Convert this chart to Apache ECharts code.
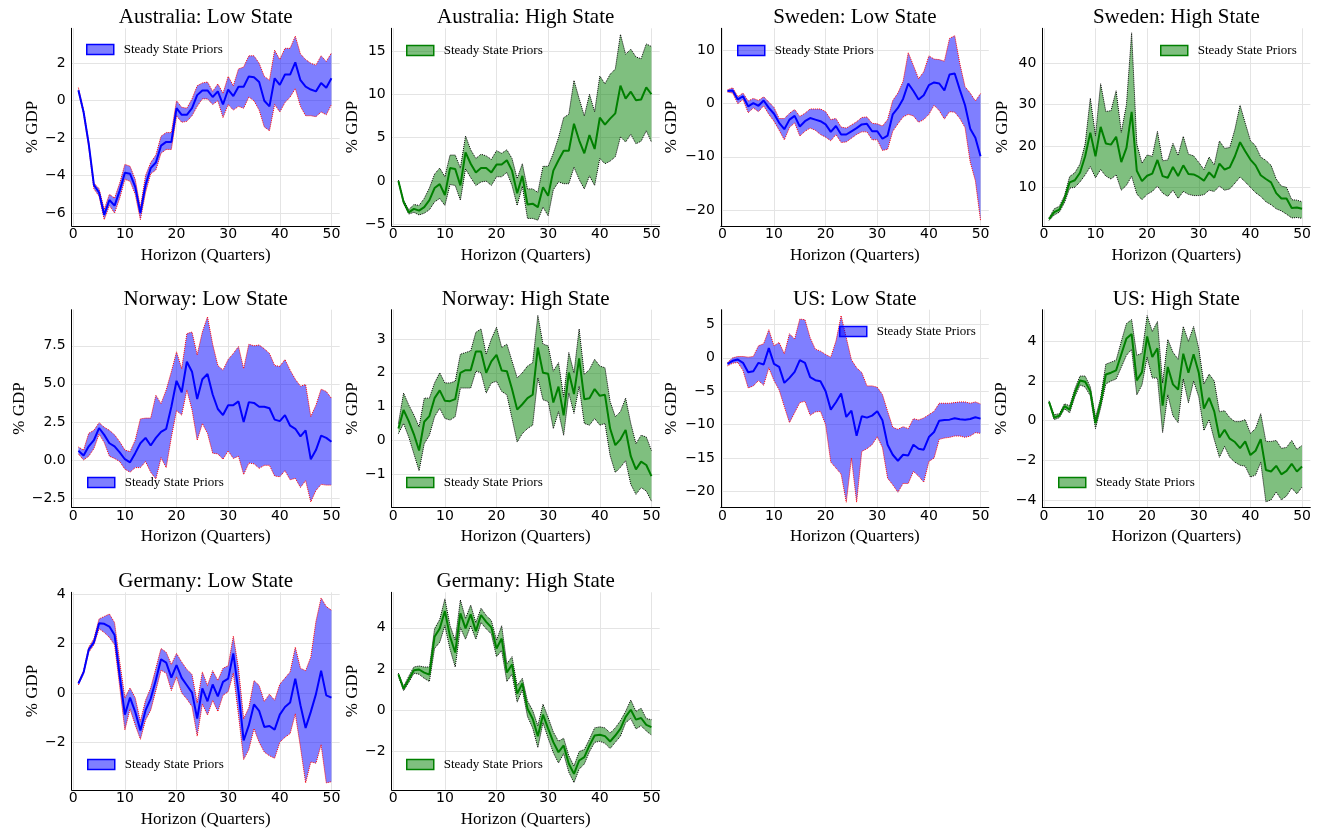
<!DOCTYPE html>
<html>
<head>
<meta charset="utf-8">
<script src="https://cdn.jsdelivr.net/npm/echarts@6/dist/echarts.min.js"></script>
<style>html,body{margin:0;padding:0;background:#fff}#main{width:1327px;height:829px}</style>
</head>
<body>
<div id="main"></div>
<script>
// horizon in quarters
var horizon = [1,2,3,4,5,6,7,8,9,10,11,12,13,14,15,16,17,18,19,20,21,22,23,24,25,
               26,27,28,29,30,31,32,33,34,35,36,37,38,39,40,41,42,43,44,45,46,47,48,49,50];

var ausLowMed = [0.56,-0.6,-2.3,-4.5,-4.9,-6.1,-5.3,-5.6,-4.8,-3.85,-3.9,-4.6,-6.0,-4.5,-3.6,-3.3,-2.4,-2.2,-2.2,-0.4,-0.75,-0.75,-0.4,0.3,0.55,0.55,0.2,0.5,-0.2,0.6,0.25,0.75,0.75,1.3,1.25,1.0,0.0,-0.3,1.2,0.85,1.4,1.4,2.05,1.1,0.75,0.6,0.5,0.95,0.7,1.2];
var ausLowHi  = [0.7,-0.5,-2.2,-4.4,-4.7,-5.8,-5.0,-5.2,-4.4,-3.4,-3.5,-4.2,-5.7,-4.0,-3.3,-2.9,-1.9,-1.7,-1.7,0.0,-0.35,-0.4,0.1,0.8,0.95,1.0,0.5,0.9,0.4,1.3,0.8,1.7,1.8,2.4,2.4,2.0,1.3,1.1,2.7,2.2,2.8,2.8,3.45,2.5,2.2,2.0,1.9,2.4,2.1,2.55];
var ausLowLo  = [0.5,-0.7,-2.5,-4.7,-5.1,-6.35,-5.6,-6.0,-5.2,-4.2,-4.3,-5.0,-6.35,-4.9,-3.9,-3.7,-2.8,-2.6,-2.6,-0.8,-1.15,-1.1,-0.8,-0.3,0.1,0.1,-0.2,0.0,-0.9,-0.2,-0.5,-0.3,-0.4,0.2,0.0,-0.5,-1.4,-1.6,-0.2,-0.6,-0.1,0.2,0.65,-0.3,-0.8,-0.8,-0.85,-0.6,-0.75,-0.2];

var ausHighMed = [0.0,-2.4,-3.6,-3.2,-3.4,-3.0,-2.2,-0.8,-0.35,-1.6,1.5,1.4,-0.5,3.3,2.0,1.0,1.5,1.5,1.0,1.9,1.9,2.4,1.2,-1.4,0.6,-2.7,-2.6,-3.0,-0.7,-1.7,1.2,2.4,3.5,3.5,6.6,4.7,3.2,5.3,3.7,7.3,6.5,7.2,7.8,11.0,9.5,10.3,9.3,9.4,10.8,10.0];
var ausHighHi  = [0.1,-2.2,-3.3,-2.7,-2.8,-2.0,-0.8,0.8,1.5,0.5,3.0,3.0,1.5,5.2,3.6,2.6,3.1,2.9,2.5,3.5,3.2,3.6,2.6,0.3,2.0,-0.9,-0.9,-1.3,1.7,1.7,3.2,5.0,7.3,7.7,11.6,9.5,7.5,10.0,8.0,12.1,11.2,12.3,12.9,16.9,14.6,15.2,14.3,14.1,15.8,15.5];
var ausHighLo  = [-0.1,-2.6,-3.8,-3.6,-3.9,-3.7,-3.3,-2.4,-2.0,-2.8,-0.4,-0.5,-2.2,1.4,0.4,-0.5,-0.1,0.0,-0.5,0.5,0.5,1.0,-0.5,-2.8,-0.6,-4.3,-4.3,-4.5,-3.0,-4.0,-1.0,-0.1,-0.3,-0.3,1.6,0.2,-0.9,0.6,-0.5,2.6,2.0,2.3,2.8,5.1,4.5,5.4,4.3,4.6,5.8,4.5];

var sweLowMed = [2.4,2.5,0.8,1.4,-0.5,0.1,-0.4,0.6,-0.8,-1.9,-3.6,-4.8,-3.0,-2.3,-4.3,-3.3,-2.7,-3.0,-3.3,-3.9,-5.3,-4.2,-5.8,-5.8,-5.2,-4.6,-3.9,-3.8,-5.2,-5.2,-6.6,-6.0,-2.0,-0.8,0.9,3.8,2.4,0.8,1.6,3.5,4.0,3.8,2.5,5.5,5.7,2.6,-0.3,-4.7,-6.4,-9.9];
var sweLowHi  = [2.6,3.0,1.3,2.0,0.5,1.0,0.6,1.3,0.3,-0.7,-2.8,-2.8,-1.8,-1.1,-2.4,-1.8,-1.0,-1.0,-1.0,-1.5,-3.0,-2.8,-4.4,-4.6,-4.0,-3.4,-2.6,-2.5,-3.7,-3.8,-4.2,-3.0,0.6,2.0,4.2,9.6,7.2,4.7,6.0,9.0,8.4,8.3,8.0,12.3,12.8,7.5,3.2,2.0,0.5,1.9];
var sweLowLo  = [2.2,2.0,0.0,0.8,-1.7,-0.8,-1.5,-0.4,-2.0,-3.3,-5.0,-6.8,-4.5,-3.6,-6.1,-5.2,-4.6,-5.0,-5.8,-6.3,-7.0,-5.8,-7.3,-7.2,-6.5,-5.8,-5.3,-5.3,-6.8,-6.8,-8.8,-8.6,-5.2,-3.8,-2.5,-2.0,-2.3,-3.5,-3.0,-2.0,-0.3,-1.3,-2.9,-1.5,-1.6,-2.8,-4.5,-11.0,-14.5,-22.0];

var sweHighMed = [2.3,4.0,4.6,7.2,11.2,11.7,13.5,17.5,23.2,17.5,24.6,20.6,20.3,22.2,16.1,19.5,28.2,14.0,11.5,12.8,13.3,16.6,12.7,12.3,14.9,12.7,15.3,13.2,13.1,12.5,11.6,13.6,12.3,15.7,14.3,14.8,17.5,20.9,18.7,16.7,15.3,12.9,12.0,11.2,8.6,7.3,7.3,5.0,5.1,4.8];
var sweHighHi  = [2.6,4.8,5.4,8.0,12.6,13.5,15.6,20.5,31.5,22.5,35.0,28.3,28.5,33.3,23.3,30.0,47.3,20.5,15.8,17.8,17.5,23.5,16.4,16.6,20.6,17.7,22.3,18.0,17.6,16.0,14.3,17.3,15.4,21.2,19.4,19.6,24.0,29.8,25.5,21.3,20.0,17.3,16.5,15.3,12.0,10.3,10.0,7.0,6.9,6.5];
var sweHighLo  = [2.0,3.3,4.0,6.3,9.8,10.0,11.3,13.0,15.0,12.3,14.3,12.7,12.0,13.0,9.3,10.5,12.7,8.4,7.0,8.3,9.0,10.3,8.6,7.8,9.3,7.3,9.0,8.3,8.0,8.0,8.2,9.3,9.0,10.3,9.3,9.6,11.0,12.5,11.3,10.0,8.7,7.8,6.5,5.8,4.8,4.3,3.5,2.6,2.7,2.5];

var norLowMed = [0.6,0.3,0.9,1.3,2.1,1.65,1.1,0.9,0.5,0.05,-0.15,0.45,1.1,1.45,0.95,1.45,1.85,2.05,3.5,5.2,4.45,6.45,5.8,4.0,5.3,5.65,4.3,3.35,2.95,3.6,3.6,3.85,2.5,3.8,3.75,3.5,3.5,3.4,2.65,2.55,2.95,2.25,2.05,1.55,1.95,0.05,0.65,1.6,1.45,1.2];
var norLowHi  = [0.85,0.65,1.75,1.95,2.45,2.15,1.95,1.65,1.2,0.65,0.55,1.3,2.7,2.75,2.75,4.25,3.7,4.6,5.8,7.1,6.0,8.3,8.4,6.9,8.4,9.4,7.6,6.2,5.9,6.6,7.0,7.45,6.0,7.6,7.5,7.55,7.3,7.0,6.2,6.15,6.6,5.9,5.3,4.85,4.95,2.85,3.6,4.65,4.5,4.05];
var norLowLo  = [0.4,0.0,0.25,0.75,1.7,1.15,0.25,0.1,-0.1,-0.6,-0.8,-0.5,-0.5,-0.1,-0.8,-1.25,0.15,-0.5,1.5,3.25,2.95,4.6,3.3,1.3,2.4,1.75,0.45,0.4,0.05,0.6,0.1,0.25,-0.95,-0.2,-0.25,-0.55,-0.35,-0.35,-1.05,-1.1,-0.7,-1.3,-1.2,-1.8,-1.35,-2.75,-2.0,-1.6,-1.65,-1.65];

var norHighMed = [0.35,0.9,0.57,0.18,-0.3,0.55,0.72,1.25,1.48,1.17,1.16,1.22,2.0,2.08,2.08,2.63,2.63,2.0,2.34,2.53,2.07,2.05,1.52,0.91,1.07,1.25,1.35,2.75,2.0,1.97,1.12,1.59,0.74,2.01,1.37,2.43,1.22,1.25,1.52,1.32,1.35,0.35,-0.14,0.03,0.31,-0.47,-0.86,-0.63,-0.73,-1.06];
var norHighHi  = [0.5,1.4,1.05,0.75,0.4,1.25,1.25,1.7,2.0,1.7,1.7,1.75,2.55,2.6,2.65,3.2,3.3,2.55,3.0,3.35,2.75,2.85,2.35,1.85,2.0,2.2,2.3,3.7,2.85,2.8,2.05,2.3,1.3,2.6,2.0,3.3,1.95,2.1,2.4,2.2,2.15,1.15,0.7,0.85,1.25,0.5,-0.1,0.15,0.1,-0.3];
var norHighLo  = [0.2,0.5,0.1,-0.4,-0.9,-0.1,0.15,0.7,0.95,0.65,0.6,0.7,1.55,1.55,1.55,2.05,2.0,1.4,1.7,1.75,1.45,1.35,0.65,-0.05,0.2,0.35,0.45,1.85,1.2,1.15,0.35,0.85,0.15,1.4,0.8,1.6,0.5,0.45,0.65,0.45,0.5,-0.45,-0.95,-0.8,-0.6,-1.3,-1.6,-1.4,-1.5,-1.8];

var usLowMed = [-0.9,-0.45,-0.25,-0.75,-2.15,-2.0,-0.75,-1.0,1.45,-0.9,-1.35,-3.75,-3.0,-2.1,-0.35,-0.75,-2.9,-3.35,-3.5,-5.0,-7.75,-6.65,-5.35,-8.85,-7.9,-11.65,-8.75,-8.95,-8.65,-8.0,-9.35,-13.0,-14.5,-15.4,-14.5,-14.6,-13.0,-13.6,-13.75,-11.85,-11.1,-9.4,-9.3,-9.25,-9.05,-9.2,-9.25,-9.15,-8.9,-9.1];
var usLowHi  = [-0.7,0.0,0.2,0.2,0.1,0.2,1.8,2.1,4.2,1.8,2.3,0.6,3.6,2.8,5.8,5.7,3.0,1.3,1.0,0.5,0.1,2.5,6.3,3.0,-0.3,-1.5,-2.2,-4.2,-4.2,-4.4,-5.5,-8.0,-10.4,-10.7,-10.3,-10.6,-9.1,-9.3,-9.0,-8.5,-8.0,-6.8,-6.8,-6.8,-6.7,-6.6,-6.6,-6.8,-6.6,-6.9];
var usLowLo  = [-1.2,-0.8,-0.7,-1.9,-4.5,-4.2,-3.4,-4.1,-1.5,-3.4,-4.8,-7.3,-9.7,-8.2,-6.7,-6.5,-8.6,-8.1,-8.0,-10.0,-15.6,-16.5,-17.4,-21.6,-15.0,-21.6,-14.0,-13.6,-13.0,-11.8,-13.4,-18.0,-19.0,-20.1,-18.8,-18.8,-17.0,-17.7,-18.6,-15.5,-15.0,-12.2,-12.0,-11.9,-11.7,-11.7,-11.9,-11.7,-11.2,-11.3];

var usHighMed = [0.95,0.15,0.25,0.73,0.56,1.4,2.03,1.96,1.49,-0.12,0.9,2.33,2.42,2.54,3.35,4.15,4.37,2.03,2.45,4.25,3.21,3.65,0.76,2.71,1.83,1.57,3.38,2.42,3.35,2.42,0.61,1.15,0.47,-0.85,-0.46,-0.91,-1.08,-1.39,-1.05,-1.74,-1.52,-0.93,-2.49,-2.57,-2.28,-2.71,-2.54,-2.18,-2.57,-2.32];
var usHighHi  = [1.0,0.3,0.35,0.85,0.75,1.6,2.25,2.25,1.7,0.15,1.15,2.85,2.95,3.05,4.0,4.9,5.1,3.3,3.4,5.3,4.5,5.0,1.9,4.1,3.45,3.1,4.75,4.0,4.75,3.65,1.85,2.35,2.0,0.45,0.5,0.15,-0.05,-0.05,0.05,-0.65,-0.4,0.35,-1.05,-1.05,-1.0,-1.4,-1.35,-1.0,-1.45,-1.25];
var usHighLo  = [0.9,0.05,0.15,0.6,0.4,1.2,1.8,1.7,1.25,-0.4,0.65,1.85,2.0,2.1,2.7,3.3,3.6,1.3,1.8,3.2,2.15,2.15,-0.6,1.3,0.25,-0.1,2.1,0.9,2.0,1.2,-0.5,0.05,-0.95,-1.85,-1.3,-1.85,-2.1,-2.25,-2.3,-2.85,-2.75,-2.1,-4.1,-4.0,-3.6,-4.0,-3.8,-3.4,-3.7,-3.35];

var gerLowMed = [0.38,0.83,1.76,2.05,2.82,2.8,2.69,2.35,0.68,-0.88,-0.19,-0.77,-1.52,-0.71,-0.23,0.52,1.36,1.23,0.62,1.13,0.61,0.31,0.01,-1.04,0.18,-0.34,0.34,-0.14,0.45,0.58,1.6,0.04,-1.93,-1.32,-0.47,-0.73,-1.38,-1.34,-1.49,-0.88,-0.57,-0.39,0.58,-0.5,-1.42,-0.77,-0.05,0.9,-0.1,-0.19];
var gerLowHi  = [0.45,0.9,1.85,2.2,3.0,3.1,3.2,2.85,1.25,-0.2,0.2,-0.2,-1.15,-0.3,0.2,1.0,1.8,1.65,1.15,1.6,1.25,0.95,0.75,-0.4,0.85,0.3,0.9,0.5,1.0,1.1,2.3,1.0,-1.05,-0.6,0.5,0.3,-0.35,-0.05,-0.3,0.35,0.6,0.85,1.85,1.0,0.9,1.45,2.9,3.85,3.5,3.35];
var gerLowLo  = [0.32,0.78,1.65,1.95,2.6,2.45,2.25,1.95,0.25,-1.5,-0.65,-1.3,-1.88,-1.1,-0.7,0.1,0.92,0.8,0.1,0.65,0.0,-0.25,-0.55,-1.75,-0.45,-0.9,-0.3,-0.75,-0.1,0.05,0.8,-0.9,-2.7,-2.3,-1.45,-2.0,-2.4,-2.55,-2.65,-2.0,-1.8,-1.65,-0.85,-2.2,-3.65,-2.8,-2.85,-2.1,-3.65,-3.6];

var gerHighMed = [1.75,1.05,1.49,1.94,1.98,1.83,1.73,3.57,3.97,4.81,3.57,2.8,4.7,3.97,4.65,3.84,4.62,4.29,4.02,3.0,3.48,1.83,2.22,0.81,1.3,0.08,-0.41,-1.25,-0.21,-0.89,-1.54,-2.03,-1.7,-2.59,-3.08,-2.43,-2.27,-1.7,-1.22,-1.18,-1.25,-1.51,-1.22,-0.89,-0.32,0.03,-0.45,-0.37,-0.7,-0.81];
var gerHighHi  = [1.8,1.15,1.65,2.1,2.15,2.1,2.1,3.95,4.4,5.4,4.1,3.4,5.35,4.45,5.1,4.25,4.95,4.6,4.35,3.4,4.1,2.25,2.6,1.2,1.55,0.45,0.0,-0.75,0.3,-0.35,-1.05,-1.5,-1.35,-2.2,-2.7,-2.0,-1.9,-1.4,-0.85,-0.8,-0.85,-1.1,-0.85,-0.5,-0.05,0.5,-0.05,0.1,-0.4,-0.45];
var gerHighLo  = [1.65,0.95,1.35,1.8,1.75,1.55,1.4,3.0,3.3,4.1,2.95,2.1,4.0,3.45,4.1,3.45,4.25,3.95,3.7,2.6,2.9,1.4,1.75,0.4,1.0,-0.3,-0.85,-1.8,-0.6,-1.35,-2.05,-2.55,-2.1,-3.0,-3.5,-2.85,-2.6,-2.0,-1.55,-1.5,-1.6,-1.85,-1.55,-1.25,-0.6,-0.4,-0.9,-0.75,-1.0,-1.2];

var panels = [
  {title: 'Australia: Low State',  med: ausLowMed,  lo: ausLowLo,  hi: ausLowHi,  state: 'low',  col: 0, row: 0, yMin: -6.68, yMax: 3.87, step: 2,   dec: 0, leg: [86, 50],   gap: 31},
  {title: 'Australia: High State', med: ausHighMed, lo: ausHighLo, hi: ausHighHi, state: 'high', col: 1, row: 0, yMin: -5.15, yMax: 17.6, step: 5,   dec: 0, leg: [406, 51],  gap: 31},
  {title: 'Sweden: Low State',     med: sweLowMed,  lo: sweLowLo,  hi: sweLowHi,  state: 'low',  col: 2, row: 0, yMin: -23.0, yMax: 14.2, step: 10,  dec: 0, leg: [737, 51],  gap: 41},
  {title: 'Sweden: High State',    med: sweHighMed, lo: sweHighLo, hi: sweHighHi, state: 'high', col: 3, row: 0, yMin: 0.7,   yMax: 48.4, step: 10,  dec: 0, leg: [1160, 51], gap: 31},
  {title: 'Norway: Low State',     med: norLowMed,  lo: norLowLo,  hi: norLowHi,  state: 'low',  col: 0, row: 1, yMin: -3.1,  yMax: 9.87, step: 2.5, dec: 1, leg: [87, 483],  gap: 44},
  {title: 'Norway: High State',    med: norHighMed, lo: norHighLo, hi: norHighHi, state: 'high', col: 1, row: 1, yMin: -1.98, yMax: 3.87, step: 1,   dec: 0, leg: [406, 483], gap: 31},
  {title: 'US: Low State',         med: usLowMed,   lo: usLowLo,   hi: usLowHi,   state: 'low',  col: 2, row: 1, yMin: -22.35,yMax: 7.2,  step: 5,   dec: 0, leg: [839, 332], gap: 41},
  {title: 'US: High State',        med: usHighMed,  lo: usHighLo,  hi: usHighHi,  state: 'high', col: 3, row: 1, yMin: -4.37, yMax: 5.6,  step: 2,   dec: 0, leg: [1058, 483],gap: 32},
  {title: 'Germany: Low State',    med: gerLowMed,  lo: gerLowLo,  hi: gerLowHi,  state: 'low',  col: 0, row: 2, yMin: -3.93, yMax: 4.08, step: 2,   dec: 0, leg: [87, 765],  gap: 31},
  {title: 'Germany: High State',   med: gerHighMed, lo: gerHighLo, hi: gerHighHi, state: 'high', col: 1, row: 2, yMin: -3.85, yMax: 5.72, step: 2,   dec: 0, leg: [406, 765], gap: 31}
];

var looks = {
  low:  {fill: 'rgba(0,0,255,0.5)', line: '#0000ff', edge: '#ff0000'},
  high: {fill: 'rgba(0,128,0,0.5)', line: '#008000', edge: '#000000'}
};

var colLeft = [71.7, 391.7, 720.8, 1042.3];
var rowTop = [28.3, 309.7, 592.3];
var plotW = 268, plotH = 197.5;
var serif = 'Liberation Serif';
var sans = 'DejaVu Sans';

function pairs(arr) {
  return horizon.map(function (h, k) { return [h, arr[k]]; });
}
function tickText(v, dec) {
  return (dec ? v.toFixed(dec) : String(Math.round(v))).replace('-', '\u2212');
}

var grids = [], xAxes = [], yAxes = [], titles = [], legends = [], series = [];

panels.forEach(function (p, i) {
  var look = looks[p.state];
  var left = colLeft[p.col], top = rowTop[p.row];
  grids.push({left: left, top: top, width: plotW, height: plotH, containLabel: false, outerBoundsMode: 'none'});

  xAxes.push({
    gridIndex: i, type: 'value', min: -0.3, max: 51.6, minInterval: 10, maxInterval: 10,
    name: 'Horizon (Quarters)', nameLocation: 'middle', nameGap: 21,
    nameTextStyle: {fontFamily: serif, fontSize: 17, color: '#000'},
    axisLine: {onZero: false, lineStyle: {color: '#000', width: 1}},
    axisTick: {show: false},
    axisLabel: {showMinLabel: false, showMaxLabel: false, color: '#000', fontFamily: sans, fontSize: 14, margin: 2,
                formatter: function (v) { return tickText(v, 0); }},
    splitLine: {show: true, showMinLine: false, showMaxLine: false, lineStyle: {color: '#e4e4e4', width: 1}}
  });

  yAxes.push({
    gridIndex: i, type: 'value', min: p.yMin, max: p.yMax, minInterval: p.step, maxInterval: p.step,
    name: '% GDP', nameLocation: 'middle', nameGap: p.gap, nameRotate: 90,
    nameTextStyle: {fontFamily: serif, fontSize: 17, color: '#000'},
    axisLine: {onZero: false, lineStyle: {color: '#000', width: 1}},
    axisTick: {show: false},
    axisLabel: {showMinLabel: false, showMaxLabel: false, color: '#000', fontFamily: sans, fontSize: 14, margin: 6,
                formatter: function (v) { return tickText(v, p.dec); }},
    splitLine: {show: true, showMinLine: false, showMaxLine: false, lineStyle: {color: '#e4e4e4', width: 1}}
  });

  titles.push({
    text: p.title, left: left + plotW / 2, top: top - 21, textAlign: 'center', padding: 0,
    textStyle: {fontFamily: serif, fontSize: 21, fontWeight: 'normal', color: '#000'}
  });

  legends.push({
    left: p.leg[0], top: p.leg[1] - 7, padding: 0, itemWidth: 27, itemHeight: 10, selectedMode: false,
    icon: 'rect',
    data: [{name: 'Steady State Priors', icon: 'rect',
            itemStyle: {color: look.fill, borderColor: look.line, borderWidth: 1.5}}],
    textStyle: {fontFamily: serif, fontSize: 13, color: '#000', padding: [0, 0, 0, 5]}
  });

  // shaded band between lower and upper bounds
  series.push({
    type: 'custom', name: 'Steady State Priors', xAxisIndex: i, yAxisIndex: i, silent: true,
    data: horizon.map(function (h, k) { return [h, p.lo[k], p.hi[k]]; }),
    encode: {x: 0, y: [1, 2]},
    itemStyle: {color: look.fill},
    renderItem: function (params, api) {
      if (params.dataIndex !== 0) return null;
      var pts = [], k;
      for (k = 0; k < horizon.length; k++) pts.push(api.coord([horizon[k], p.hi[k]]));
      for (k = horizon.length - 1; k >= 0; k--) pts.push(api.coord([horizon[k], p.lo[k]]));
      return {type: 'polygon', shape: {points: pts}, style: {fill: look.fill}};
    }
  });
  [p.lo, p.hi].forEach(function (arr) {
    series.push({
      type: 'line', xAxisIndex: i, yAxisIndex: i, data: pairs(arr), symbol: 'none', silent: true,
      lineStyle: {color: look.edge, width: 1, type: 'dotted'}
    });
  });
  series.push({
    type: 'line', xAxisIndex: i, yAxisIndex: i, data: pairs(p.med), symbol: 'none', silent: true,
    lineStyle: {color: look.line, width: 2}
  });
});

var myChart = echarts.init(document.getElementById('main'));
myChart.setOption({
  backgroundColor: '#ffffff',
  animation: false,
  title: titles,
  legend: legends,
  grid: grids,
  xAxis: xAxes,
  yAxis: yAxes,
  series: series
});
</script>
</body>
</html>
